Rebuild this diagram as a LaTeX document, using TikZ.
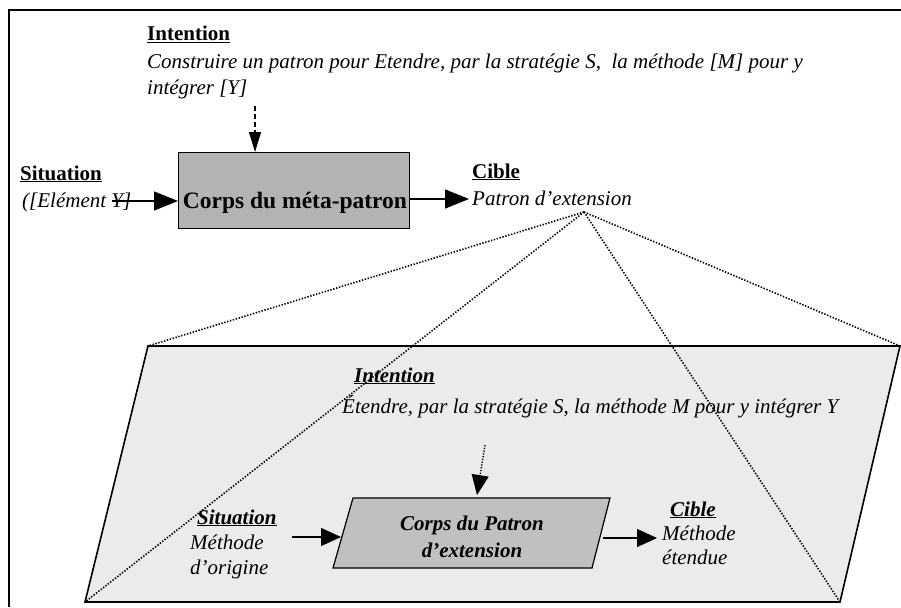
\documentclass[tikz,border=0pt]{standalone}
\usepackage{fontspec}
\setmainfont{Liberation Serif}
\usetikzlibrary{arrows.meta}
\definecolor{boxgray}{HTML}{B3B3B3}
\definecolor{innergray}{HTML}{C0C0C0}
\definecolor{panelgray}{HTML}{EBEBEB}
\newcommand{\fs}{\fontsize{21}{26}\selectfont}
\tikzset{
  lbl/.style={anchor=base west, inner sep=0pt},
  bigarr/.style={line width=1.2pt, -{Triangle[length=24pt,width=19pt]}},
  midarr/.style={line width=1.2pt, -{Triangle[length=20pt,width=18pt]}},
  dasharr/.style={line width=1.3pt, dash pattern=on 5pt off 3pt, -{Triangle[length=20pt,width=12pt]}},
  dotarr/.style={line width=1.4pt, dash pattern=on 1.3pt off 1.5pt, -{Triangle[length=20pt,width=17pt]}},
  dotline/.style={line width=1.6pt, dash pattern=on 1.4pt off 1.6pt},
}
\begin{document}
\begin{tikzpicture}[x=1pt,y=-1pt,font=\fs]
\useasboundingbox (0,0) rectangle (901,607);
% outer frame
\coordinate (fbl) at (9,607);
\coordinate (ftl) at (9,10);
\coordinate (ftr) at (901,10);
\draw[line width=2pt] (fbl) -- (ftl) -- (ftr);

% panel
\coordinate (ptl) at (148,346);
\coordinate (ptr) at (900,346);
\coordinate (pbr) at (840,602);
\coordinate (pbl) at (85,602);
\draw[line width=1.6pt, fill=panelgray] (ptl) -- (ptr) -- (pbr) -- (pbl) -- cycle;

% top part
\node[lbl, font=\bfseries\fs] (int1) at (147,41) {\underline{Intention}};
\node[lbl, font=\itshape\fs] (int1a) at (147,69) {Construire un patron pour Etendre, par la stratégie S,\ \ la méthode [M] pour y};
\node[lbl, font=\itshape\fs] (int1b) at (147,95) {intégrer [Y]};

\node[draw, fill=boxgray, line width=1pt, anchor=north west, minimum width=231pt, minimum height=76pt, inner sep=0pt] (meta) at (178,152) {};
\node[anchor=base, inner sep=0pt, font=\bfseries\fontsize{23.5}{26}\selectfont] (metatxt) at (295,208) {Corps du méta-patron};

\node[lbl, font=\bfseries\fs] (sit1) at (20,180) {\underline{Situation}};
\node[lbl, font=\itshape\fs] (sit1a) at (22,207) {([Elément Y]};

\node[lbl, font=\bfseries\fs] (cib1) at (472,178) {\underline{Cible}};
\node[lbl, font=\itshape\fs] (cib1a) at (472,205) {Patron d'extension};

\coordinate (s0) at (112,201);
\draw[bigarr] (s0) -- (s0 -| meta.west);
\coordinate (c0) at (469,199);
\draw[bigarr] (c0 -| meta.east) -- (c0);
\coordinate (i0) at (255,106);
\draw[dasharr] (i0) -- (i0 |- meta.north);

% inner part
\node[lbl, font=\bfseries\itshape\fs] (int2) at (354,382) {\underline{Intention}};
\node[lbl, font=\itshape\fs] (int2a) at (342,413) {Étendre, par la stratégie S, la méthode M pour y intégrer Y};

\coordinate (qtl) at (353,498);
\coordinate (qtr) at (610,498);
\coordinate (qbr) at (592,568);
\coordinate (qbl) at (333,568);
\draw[line width=1.2pt, fill=innergray] (qtl) -- (qtr) -- (qbr) -- (qbl) -- cycle;
\node[anchor=base, inner sep=0pt, font=\bfseries\itshape\fs] (corps2a) at (472,530) {Corps du Patron};
\node[anchor=base, inner sep=0pt, font=\bfseries\itshape\fs] (corps2b) at (472,557) {d'extension};

\node[lbl, font=\bfseries\itshape\fs] (sit2) at (197,524) {\underline{Situation}};
\node[lbl, font=\itshape\fs] (sit2a) at (190,549) {Méthode};
\node[lbl, font=\itshape\fs] (sit2b) at (190,574) {d'origine};

\node[lbl, font=\bfseries\itshape\fs] (cib2) at (670,516) {\underline{Cible}};
\node[lbl, font=\itshape\fs] (cib2a) at (662,540) {Méthode};
\node[lbl, font=\itshape\fs] (cib2b) at (662,564) {étendue};

\coordinate (s2) at (292,537);
\coordinate (s2e) at (341,537);
\draw[midarr] (s2) -- (s2e);
\coordinate (c2s) at (603,538);
\coordinate (c2e) at (657,538);
\draw[midarr] (c2s) -- (c2e);
\coordinate (i2s) at (485,445);
\coordinate (i2e) at (477,495);
\draw[dotarr] (i2s) -- (i2e);

% dotted zoom lines
\coordinate (apex) at (584,212);
\draw[dotline] (apex) -- (ptl);
\draw[dotline] (apex) -- (pbl);
\draw[dotline] (apex) -- (pbr);
\draw[dotline] (apex) -- (ptr);
\end{tikzpicture}
\end{document}
